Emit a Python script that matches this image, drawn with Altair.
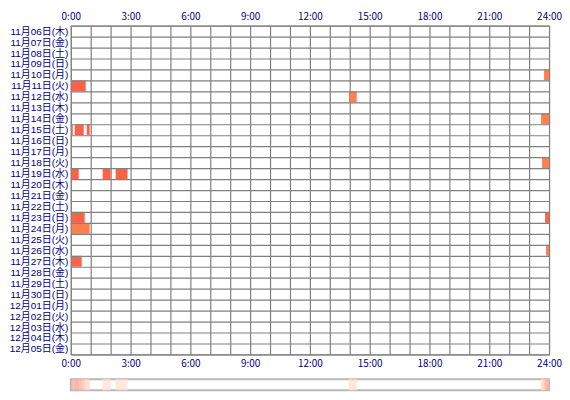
import altair as alt
import pandas as pd

# Row categories (dates)
dates = [
    "11月06日(木)", "11月07日(金)", "11月08日(土)", "11月09日(日)", "11月10日(月)",
    "11月11日(火)", "11月12日(水)", "11月13日(木)", "11月14日(金)", "11月15日(土)",
    "11月16日(日)", "11月17日(月)", "11月18日(火)", "11月19日(水)", "11月20日(木)",
    "11月21日(金)", "11月22日(土)", "11月23日(日)", "11月24日(月)", "11月25日(火)",
    "11月26日(水)", "11月27日(木)", "11月28日(金)", "11月29日(土)", "11月30日(日)",
    "12月01日(月)", "12月02日(火)", "12月03日(水)", "12月04日(木)", "12月05日(金)",
]

# Activity segments (minutes from 0:00)
seg_date = [
    "11月10日(月)", "11月11日(火)", "11月12日(水)", "11月12日(水)", "11月14日(金)",
    "11月15日(土)", "11月15日(土)", "11月15日(土)", "11月18日(火)",
    "11月19日(水)", "11月19日(水)", "11月19日(水)",
    "11月23日(日)", "11月23日(日)", "11月24日(月)", "11月26日(水)", "11月27日(木)",
]
seg_start = [1425, 3, 838, 841, 1416, 3, 12, 48, 1419, 3, 96, 135, 3, 1428, 3, 1431, 3]
seg_end = [1440, 45, 841, 861, 1440, 6, 39, 57, 1440, 24, 120, 171, 42, 1440, 57, 1440, 33]
seg_kind = ["b", "a", "a", "b", "b", "a", "a", "a", "b", "a", "a", "a", "a", "a", "b", "b", "a"]

kinds = ["a", "b"]
kind_colors = ["#ff6347", "#ff7f50"]

hour_ticks = list(range(0, 1441, 60))

seg_df = pd.DataFrame({"date": seg_date, "start": seg_start, "end": seg_end, "kind": seg_kind})

# Summary strip: how many days are active in each 3-minute slot
strip_s, strip_e, strip_n = [], [], []
for b in range(0, 1440, 3):
    mid = b + 1.5
    n = sum(1 for s, e in zip(seg_start, seg_end) if s <= mid < e)
    if n > 0:
        strip_s.append(b)
        strip_e.append(b + 3)
        strip_n.append(n)
strip_df = pd.DataFrame({"s": strip_s, "e": strip_e, "n": strip_n})

label_expr = "datum.value % 180 == 0 ? floor(datum.value / 60) + ':00' : ''"
xscale = alt.Scale(domain=[0, 1440], nice=False, zero=False)

yenc = alt.Y(
    "date:O",
    sort=dates,
    scale=alt.Scale(domain=dates, paddingInner=0, paddingOuter=0),
    axis=alt.Axis(title=None, tickBand="extent", grid=True, ticks=False, domain=False,
                  gridColor="#808080", gridWidth=1.2, labelPadding=3, labelFontSize=10,
                  labelFont="Liberation Sans, Noto Sans CJK JP",
                  minExtent=62, maxExtent=62),
)

top = alt.Chart(seg_df).mark_rect().encode(
    x=alt.X("start:Q", scale=xscale,
            axis=alt.Axis(orient="top", values=hour_ticks, labelExpr=label_expr, grid=True,
                          gridColor="#808080", gridWidth=1.2, ticks=False, domain=False,
                          title=None, labelFlush=False, labelOverlap=False, labelPadding=4,
                          minExtent=16, maxExtent=16)),
    x2="end:Q",
    y=yenc,
    color=alt.Color("kind:N", scale=alt.Scale(domain=kinds, range=kind_colors), legend=None),
)

bottom = alt.Chart(seg_df).mark_rect(opacity=0).encode(
    x=alt.X("start:Q", scale=xscale,
            axis=alt.Axis(orient="bottom", values=hour_ticks, labelExpr=label_expr, grid=False,
                          ticks=False, domain=False, title=None, labelFlush=False,
                          labelOverlap=False, labelPadding=4, minExtent=16, maxExtent=16)),
    x2="end:Q",
    y=yenc,
)

main = alt.layer(top, bottom).resolve_axis(x="independent").properties(width=480, height=330)

strip = alt.Chart(strip_df).mark_rect().encode(
    x=alt.X("s:Q", scale=xscale, axis=None),
    x2="e:Q",
    color=alt.Color("n:Q", scale=alt.Scale(domain=[1, 6], range=["#ffe2d2", "#ffa69c"]), legend=None),
).properties(width=480, height=11, view=alt.ViewBackground(stroke="#b8b8b8", strokeWidth=2))

chart = alt.vconcat(main, strip, spacing=7).properties(
    padding={"left": 0, "top": 0, "right": 0, "bottom": 0}
).configure_axis(
    labelFont="Noto Sans CJK JP", labelFontSize=10, labelColor="#000080"
).configure_view(stroke="#808080")

chart.save("out.html", embed_options={"renderer": "svg", "actions": False})
